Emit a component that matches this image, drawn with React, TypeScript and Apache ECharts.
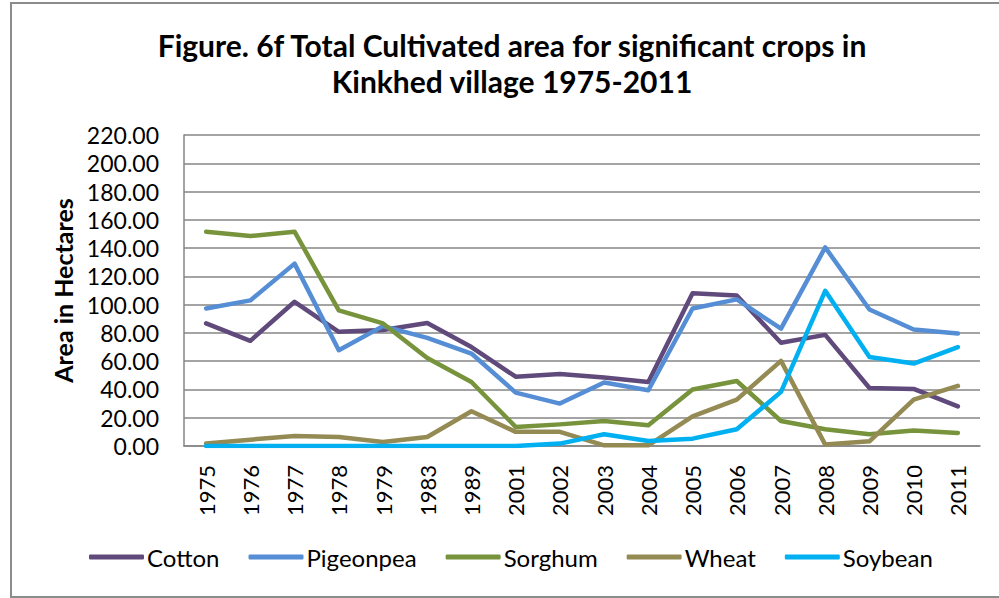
import React, { useEffect, useRef } from "react";
import * as echarts from "echarts";

const years = ["1975","1976","1977","1978","1979","1983","1989","2001","2002","2003","2004","2005","2006","2007","2008","2009","2010","2011"];
const cotton = [86.7,74.4,102,80.8,82,87,70,49,51,48.4,45.3,108,106.5,73,78.6,41,40.4,28];
const pigeonpea = [97.3,103,129,67.8,84.8,76.5,65.4,37.8,30,44.9,39.4,97.3,103.7,83,140.5,96.6,82.4,79.6];
const sorghum = [151.6,148.5,151.6,96,86.7,62.3,45.3,13.5,15.3,17.7,14.6,40,46,17.7,11.8,8.3,11,9.2];
const wheat = [1.7,4.5,7,6.4,2.8,6.4,24.6,10,10,0.5,0.5,21,32.8,60.2,1,3.3,32.8,42.5];
const soybean = [0,0,0,0,0,0,0,0,1.7,8.3,3.5,5.2,11.8,38.3,109.8,63,58.3,70];

const seriesNames = ["Cotton","Pigeonpea","Sorghum","Wheat","Soybean"];
const seriesData = [cotton, pigeonpea, sorghum, wheat, soybean];
const colors = ["#604A7B","#558ED5","#77933C","#948A54","#00B0F0"];

const titleText = "Figure. 6f Total Cultivated area for significant crops in\nKinkhed village 1975-2011";
const yAxisName = "Area in Hectares";

const FONT = "Lato, 'Open Sans', sans-serif";

export default function App() {
  const ref = useRef<HTMLDivElement>(null);
  useEffect(() => {
    if (!ref.current) return;
    const chart = echarts.init(ref.current, null, { renderer: "svg" });
    chart.setOption({
      animation: false,
      backgroundColor: "#ffffff",
      textStyle: { fontFamily: FONT },
      title: {
        text: titleText,
        left: 507,
        top: 22,
        textAlign: "center",
        textStyle: { fontFamily: FONT, fontSize: 30, fontWeight: "bold", color: "#000", lineHeight: 36 },
      },
      graphic: [
        {
          type: "rect",
          shape: { x: 11, y: 3, width: 1000, height: 594 },
          style: { fill: "none", stroke: "#8c8c8c", lineWidth: 2 },
          silent: true,
        },
      ],
      legend: {
        left: 84,
        top: 540,
        icon: "roundRect",
        itemWidth: 55,
        itemHeight: 5,
        itemGap: 29,
        textStyle: { fontFamily: FONT, fontSize: 24, color: "#000", padding: [0, 0, 0, -2] },
        data: seriesNames,
      },
      grid: { left: 184, right: 19, top: 135, bottom: 152, containLabel: false },
      xAxis: {
        type: "category",
        data: years,
        boundaryGap: true,
        axisLine: { show: true, lineStyle: { color: "#868686", width: 1.5 } },
        axisTick: { show: false },
        axisLabel: { rotate: 90, margin: 19, fontFamily: FONT, fontSize: 22, color: "#000", interval: 0 },
      },
      yAxis: {
        type: "value",
        min: 0,
        max: 220,
        interval: 20,
        name: yAxisName,
        nameLocation: "middle",
        nameRotate: 90,
        nameGap: 108,
        nameTextStyle: { fontFamily: FONT, fontSize: 25, fontWeight: "bold", color: "#000" },
        axisLine: { show: true, lineStyle: { color: "#868686", width: 1.5 } },
        axisTick: { show: false },
        axisLabel: { formatter: (v: number) => v.toFixed(2), margin: 25, fontFamily: FONT, fontSize: 23, color: "#000" },
        splitLine: { show: true, lineStyle: { color: "#868686", width: 1.5 } },
      },
      series: seriesNames.map((name, i) => ({
        name,
        type: "line",
        data: seriesData[i],
        symbol: "none",
        color: colors[i],
        lineStyle: { color: colors[i], width: 4.5, cap: "round", join: "round" },
        itemStyle: { color: colors[i] },
      })),
    });
    return () => chart.dispose();
  }, []);
  return <div ref={ref} style={{ position: "fixed", left: 0, top: 0, width: 999, height: 598 }} />;
}
